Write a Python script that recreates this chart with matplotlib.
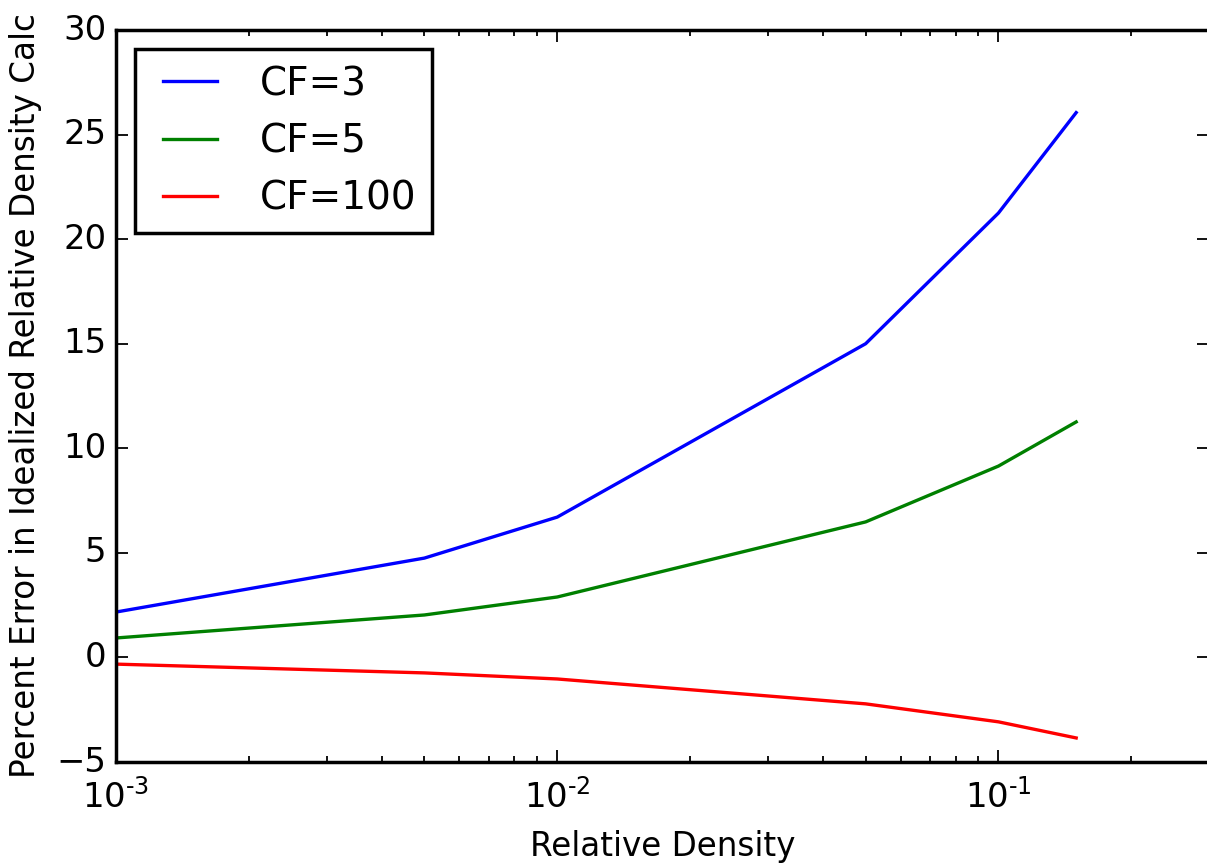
import matplotlib
matplotlib.use("Agg")
import matplotlib.pyplot as plt
from matplotlib.ticker import FixedLocator, FixedFormatter, LogLocator

plt.style.use("classic")
plt.rcParams["font.family"] = ["DejaVu Sans"]
plt.rcParams["mathtext.fontset"] = "dejavusans"

# Relative density values at which the error was evaluated
relative_density = [0.001, 0.005, 0.01, 0.05, 0.1, 0.15]

# Percent error for each correction factor
error_cf3 = [2.17, 4.75, 6.71, 15.0, 21.25, 26.05]
error_cf5 = [0.93, 2.03, 2.89, 6.48, 9.15, 11.26]
error_cf100 = [-0.32, -0.74, -1.03, -2.22, -3.08, -3.85]

series_labels = ["CF=3", "CF=5", "CF=100"]
series_colors = ["b", "g", "r"]

x_ticks = [0.001, 0.01, 0.1]
x_tick_labels = [r"$\mathdefault{10^{\text{-}3}}$",
                 r"$\mathdefault{10^{\text{-}2}}$",
                 r"$\mathdefault{10^{\text{-}1}}$"]
y_ticks = [-5, 0, 5, 10, 15, 20, 25, 30]

W, H = 1207, 865
fig = plt.figure(figsize=(W / 100, H / 100), dpi=100, facecolor="white")
ax = fig.add_axes([116 / W, 1 - 762 / H, (1209 - 116) / W, (762 - 30) / H])
ax.set_facecolor("white")

for ys, lab, col in zip([error_cf3, error_cf5, error_cf100], series_labels, series_colors):
    ax.plot(relative_density, ys, color=col, lw=2.4, label=lab)

ax.set_xscale("log")
ax.set_xlim(1e-3, 0.3)
ax.set_ylim(-5, 30)
ax.xaxis.set_major_locator(FixedLocator(x_ticks))
ax.xaxis.set_major_formatter(FixedFormatter(x_tick_labels))
ax.xaxis.set_minor_locator(LogLocator(base=10, subs=range(2, 10)))
ax.set_yticks(y_ticks)

for sp in ax.spines.values():
    sp.set_linewidth(2.5)
ax.tick_params(which="major", length=8.6, width=1.3, labelsize=24.4)
ax.tick_params(axis="x", which="major", pad=12)
ax.tick_params(axis="y", which="major", pad=7)
ax.tick_params(which="minor", length=4.3, width=1.3)

ax.set_xlabel("Relative Density", fontsize=23.5, labelpad=11)
ax.set_ylabel("Percent Error in Idealized Relative Density Calc", fontsize=23.5, labelpad=10)

leg = ax.legend(loc="upper left", fontsize=28.0, fancybox=False)
leg.get_frame().set_linewidth(2.5)
leg.get_frame().set_edgecolor("black")

fig.savefig("out.png", dpi=100, facecolor="white")
